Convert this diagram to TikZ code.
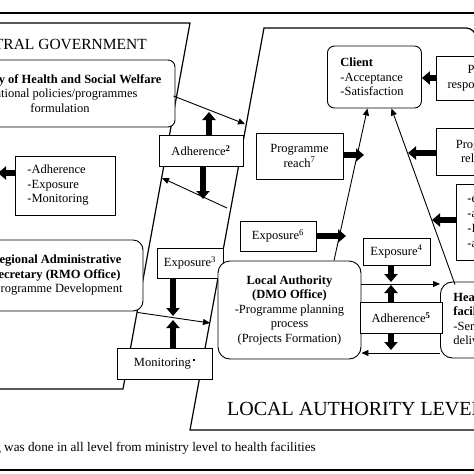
\documentclass[tikz,border=0pt]{standalone}
\usepackage{fontspec}
\setmainfont{Liberation Serif}
\usetikzlibrary{arrows.meta,calc}
\begin{document}
\begin{tikzpicture}[x=1pt,y=-1pt,
  box/.style={draw,fill=white,line width=0.9pt,inner sep=0pt,align=center,font=\fontsize{12.5}{14.5}\selectfont},
  rbox/.style={box,rounded corners=7pt},
  thinarrow/.style={line width=0.9pt,-{Triangle[width=6pt,length=7pt]}},
  fatarrow/.style={line width=5.5pt,-{Triangle[width=13pt,length=8pt]}},
  frame/.style={line width=1.2pt},
]
\useasboundingbox (0,0) rectangle (474,474);
\clip (0,0) rectangle (474,474);
% frame lines
\draw[frame] (-5,13) -- (480,13);
\draw[frame] (-5,470) -- (480,470);
% central government shape
\draw[frame] (-5,23) -- (190,23) -- (123,389) -- (-5,389);
% local authority shape
\draw[frame] (480,430) -- (190,430) -- (264,28) -- (466,28) to[out=0,in=90] (476,38) -- (476,430);
% level titles
\node[anchor=base east,inner sep=0pt,font=\fontsize{15.5}{18}\selectfont] (cgtitle) at (147,49) {CENTRAL GOVERNMENT};
\node[anchor=base west,inner sep=0pt,font=\fontsize{20}{22}\selectfont] (latitle) at (227,415) {LOCAL AUTHORITY LEVEL};
\node[anchor=base east,inner sep=0pt,font=\fontsize{13.2}{15}\selectfont] (foot) at (316,451) {*Monitoring was done in all level from ministry level to health facilities};
% boxes
\node[rbox,minimum width=230pt,minimum height=67pt] (ministry) at (60,93.5)
  {\textbf{Ministry of Health and Social Welfare}\\-National policies/programmes\\formulation};
\node[box,minimum height=59pt,text width=76pt,inner xsep=12pt,align=left,anchor=west] (leftbox) at (15,185.5)
  {-Adherence\\-Exposure\\-Monitoring};
\node[rbox,rounded corners=10pt,minimum width=174pt,minimum height=71pt] (regional) at (56,275.5)
  {\textbf{Regional Administrative}\\\textbf{Secretary (RMO Office)}\\-Programme Development};
\node[box,minimum width=84pt,minimum height=31pt] (adh2) at (201,150.5) {Adherence\textsuperscript{\textbf{2}}};
\node[box,minimum width=66pt,minimum height=30pt] (exp3) at (190,263) {Exposure\textsuperscript{3}};
\node[box,minimum width=95pt,minimum height=31pt] (monit) at (164.5,363.5) {Monitoring\,\raisebox{5pt}{\rule{2pt}{2pt}}};
\node[box,minimum width=87pt,minimum height=46pt] (reach7) at (299.5,156) {Programme\\reach\textsuperscript{7}};
\node[rbox,minimum height=62pt,text width=68pt,inner xsep=13pt,align=left,anchor=west] (client) at (327,77)
  {\textbf{Client}\\-Acceptance\\-Satisfaction};
\node[box,minimum width=76pt,minimum height=30pt] (exp6) at (278,236) {Exposure\textsuperscript{6}};
\node[box,minimum width=67pt,minimum height=27pt] (exp4) at (396.5,251.5) {Exposure\textsuperscript{4}};
\node[rbox,rounded corners=12pt,minimum width=143pt,minimum height=98pt] (LA) at (289.5,310)
  {\textbf{Local Authority}\\\textbf{(DMO Office)}\\-Programme planning\\process\\(Projects Formation)};
\node[rbox,rounded corners=12pt,minimum height=76pt,text width=74pt,inner xsep=13pt,align=left,anchor=west] (health) at (440,320)
  {\textbf{Health}\\\textbf{facilities}\\-Service\\delivery};
\node[box,minimum width=82pt,minimum height=31pt] (adh5) at (401,317.5) {Adherence\textsuperscript{\textbf{5}}};
\node[box,minimum width=98pt,minimum height=44pt] (pa) at (485,78) {Patient\\responsiveness};
\node[box,minimum width=98pt,minimum height=47pt] (prog) at (485,151.5) {Programme\\relevance};
\node[box,minimum height=76pt,text width=90pt,inner xsep=11pt,align=left,anchor=west,font=\fontsize{12.5}{15}\selectfont] (third) at (456,222)
  {-equity\\-access\\-Integration\\-affordability};
% free-end coordinates
\coordinate (e1) at (245,124);
\coordinate (e2) at (227,208);
\coordinate (e3) at (162,178);
\coordinate (e4) at (209,112);
\coordinate (e5) at (203,199);
\coordinate (e6) at (173,316);
\coordinate (e7) at (173,320);
\coordinate (e8) at (210,323);
\coordinate (e9) at (-2,173);
\coordinate (e10) at (364,155);
\coordinate (e11) at (346,236);
\coordinate (e12) at (408,153);
\coordinate (e13) at (432,220);
\coordinate (e14) at (391,282);
\coordinate (e15) at (391,285);
\coordinate (e16) at (391,350);
\coordinate (y284) at (0,284);
\coordinate (y353) at (0,353);
\coordinate (y173) at (0,173);
% thin arrows
\draw[thinarrow] ($(ministry.east)+(-2,2.5)$) -- (e1);
\draw[thinarrow] (e2) -- (e3);
\draw[thinarrow] ($(regional.south east)+(-6,1)$) -- (e8);
\draw[thinarrow] ($(LA.north)+(44.5,0)$) -- ($(client.south)+(-7,0)$);
\draw[thinarrow] ($(health.north west)+(15,3)$) -- ($(client.south)+(17,0)$);
\draw[thinarrow] (LA.east |- y284) -- (health.west |- y284);
\draw[thinarrow] (health.west |- y353) -- (LA.east |- y353);
% thick arrows
\draw[fatarrow] (leftbox.west |- y173) -- (e9);
\draw[fatarrow] (adh2.north -| e4) -- (e4);
\draw[fatarrow] (adh2.south -| e5) -- (e5);
\draw[fatarrow] (exp3.south -| e6) -- (e6);
\draw[fatarrow] (monit.north -| e7) -- (e7);
\draw[fatarrow] (reach7.east |- e10) -- (e10);
\draw[fatarrow] (exp6.east) -- (e11);
\draw[fatarrow] (pa.west) -- (pa.west -| client.east);
\draw[fatarrow] (prog.west |- e12) -- (e12);
\draw[fatarrow] (third.west |- e13) -- (e13);
\draw[fatarrow] (exp4.south -| e14) -- (e14);
\draw[fatarrow] (adh5.north -| e15) -- (e15);
\draw[fatarrow] (adh5.south -| e16) -- (e16);
\end{tikzpicture}
\end{document}
